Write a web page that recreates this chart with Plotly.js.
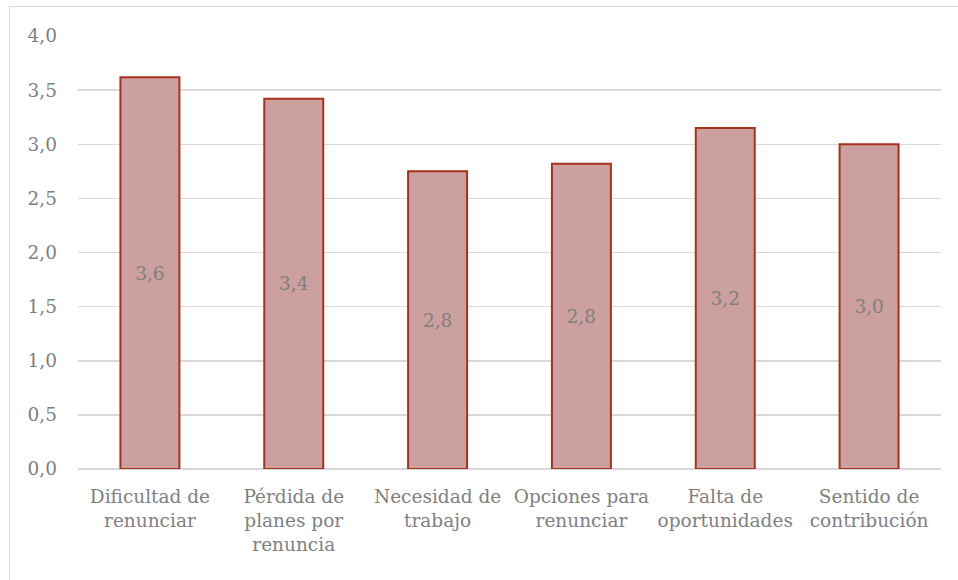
<!DOCTYPE html>
<html>
<head>
<meta charset="utf-8">
<script src="https://cdn.plot.ly/plotly-3.0.1.min.js"></script>
<style>
  html, body { margin: 0; padding: 0; background: #ffffff; }
  #wrap { position: relative; width: 958px; height: 580px; overflow: hidden; }
  #chart { width: 958px; height: 580px; }
  #frame {
    position: absolute; left: 9px; top: 6px; width: 980px; height: 600px;
    border: 1.5px solid #d9d9d9; box-sizing: border-box; pointer-events: none;
  }
</style>
</head>
<body>
<div id="wrap">
  <div id="chart"></div>
  <div id="frame"></div>
</div>
<script>
// Mean scores per motive (scale 0–4)
const categories = [
  "Dificultad de<br>renunciar",
  "Pérdida de<br>planes por<br>renuncia",
  "Necesidad de<br>trabajo",
  "Opciones para<br>renunciar",
  "Falta de<br>oportunidades",
  "Sentido de<br>contribución"
];
const values = [3.62, 3.42, 2.75, 2.82, 3.15, 3.0];
const yTickVals = [0, 0.5, 1, 1.5, 2, 2.5, 3, 3.5, 4];
const yTickText = ["0,0", "0,5", "1,0", "1,5", "2,0", "2,5", "3,0", "3,5", "4,0"];

// One-decimal label with a comma as decimal separator
function fmt(v) {
  const r = Math.round(v * 10 + 1e-9) / 10;
  return r.toFixed(1).replace(".", ",");
}

const font = "DejaVu Serif";
const grey = "#7f7f7f";
const fs = 18.5;

const trace = {
  type: "bar",
  x: categories,
  y: values,
  text: values.map(fmt),
  textposition: "inside",
  insidetextanchor: "middle",
  textangle: 0,
  textfont: { family: font, size: fs, color: grey },
  marker: {
    color: "#cba09f",
    line: { color: "#a5321b", width: 2 }
  },
  hoverinfo: "skip"
};

const layout = {
  width: 958,
  height: 580,
  margin: { l: 78, r: 17, t: 36, b: 111 },
  paper_bgcolor: "#ffffff",
  plot_bgcolor: "#ffffff",
  showlegend: false,
  bargap: 0.59,
  font: { family: font, size: fs, color: grey },
  xaxis: {
    type: "category",
    showgrid: false,
    showline: false,
    zeroline: false,
    ticks: "",
    tickangle: 0,
    ticklabelstandoff: 14,
    tickfont: { family: font, size: fs, color: grey },
    automargin: false
  },
  yaxis: {
    range: [0, 4],
    tickvals: yTickVals,
    ticktext: yTickText,
    showgrid: true,
    gridcolor: "#d9d9d9",
    gridwidth: 1.5,
    zeroline: true,
    zerolinecolor: "#d9d9d9",
    zerolinewidth: 1.5,
    showline: false,
    ticks: "",
    ticklabelstandoff: 20,
    tickfont: { family: font, size: fs, color: grey },
    automargin: false,
    fixedrange: true
  }
};

Plotly.newPlot("chart", [trace], layout, { displayModeBar: false, staticPlot: true });
</script>
</body>
</html>
